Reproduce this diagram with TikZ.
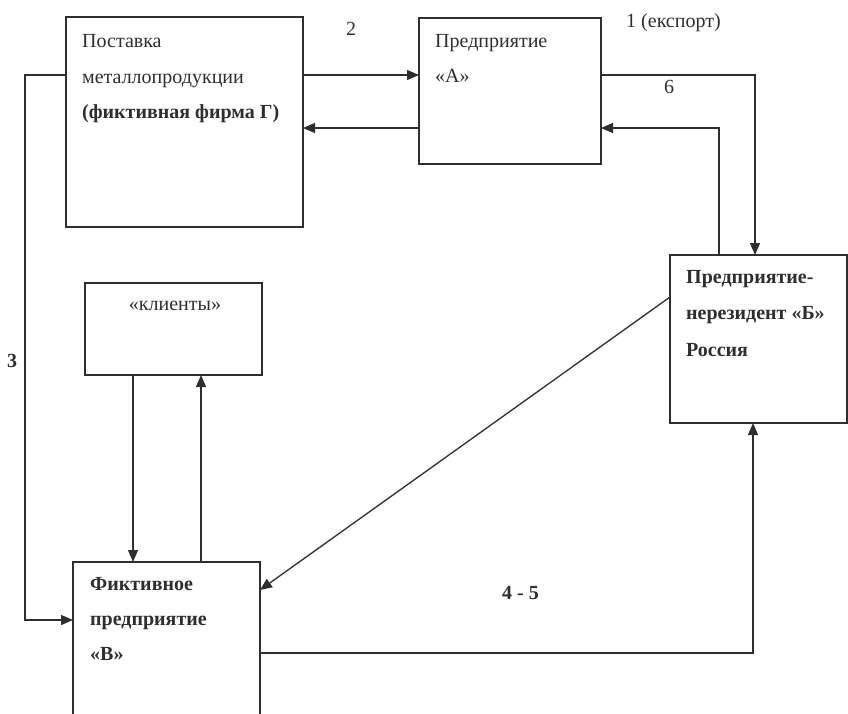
\documentclass[tikz,border=0pt]{standalone}
\usepackage{fontspec}
\setmainfont{Liberation Serif}
\usetikzlibrary{arrows.meta,calc}
\definecolor{ink}{gray}{0.18}
\begin{document}
\begin{tikzpicture}[x=1pt,y=-1pt,
 box/.style={draw=ink,line width=1.3pt,inner sep=0pt,outer sep=0pt,anchor=north west},
 lbl/.style={anchor=base west,inner sep=0pt,font=\fontsize{20}{24}\selectfont,text=ink},
 blbl/.style={lbl,font=\fontsize{20}{24}\selectfont\bfseries},
 conn/.style={draw=ink,line width=1.3pt,-{Triangle[length=12pt,width=10pt]}}]
\useasboundingbox (0,0) rectangle (848,713);
% boxes
\node[box,minimum width=237pt,minimum height=210pt] (G) at (66,17) {};
\node[box,minimum width=182pt,minimum height=146pt] (A) at (419,18) {};
\node[box,minimum width=177pt,minimum height=168pt] (B) at (670,255) {};
\node[box,minimum width=177pt,minimum height=92pt] (K) at (85,283) {};
\node[box,minimum width=187pt,minimum height=170pt] (V) at (73,562) {};
% box texts
\node[lbl] (g1) at (82,47) {Поставка};
\node[lbl] (g2) at (82,83) {металлопродукции};
\node[blbl] (g3) at (82,118) {(фиктивная фирма Г)};
\node[lbl] (a1) at (435,47) {Предприятие};
\node[lbl] (a2) at (435,82) {«А»};
\node[blbl] (b1) at (686,283) {Предприятие-};
\node[blbl] (b2) at (686,319) {нерезидент «Б»};
\node[blbl] (b3) at (686,356) {Россия};
\node[lbl,anchor=base] (k1) at (175,310) {«клиенты»};
\node[blbl] (v1) at (90,590) {Фиктивное};
\node[blbl] (v2) at (90,625) {предприятие};
\node[blbl] (v3) at (90,660) {«В»};
% labels
\node[lbl] (l2) at (346,35) {2};
\node[lbl] (l1) at (626,27) {1 (експорт)};
\node[lbl] (l6) at (664,93) {6};
\node[blbl] (l3) at (7,367) {3};
\node[blbl] (l45) at (502,599) {4 - 5};
% helper coordinates
\coordinate (r75) at (0,75);
\coordinate (r128) at (0,128);
\coordinate (c3) at (25,620);
\coordinate (c6) at (755,0);
\coordinate (c6b) at (719,0);
\coordinate (kx1) at (133,0);
\coordinate (kx2) at (201,0);
\coordinate (d1) at (0,297);
\coordinate (d2) at (0,590);
\coordinate (cd) at (753,653);
% connectors
\draw[conn] (G.east |- r75) -- (A.west |- r75);
\draw[conn] (A.west |- r128) -- (G.east |- r128);
\draw[conn] (G.west |- r75) -| (c3) -- (V.west |- c3);
\draw[conn] (A.east |- r75) -| (B.north -| c6);
\draw[conn] (B.north -| c6b) |- (A.east |- r128);
\draw[conn] (K.south -| kx1) -- (V.north -| kx1);
\draw[conn] (V.north -| kx2) -- (K.south -| kx2);
\draw[conn] (B.west |- d1) -- (V.east |- d2);
\draw[conn] (V.east |- cd) -| (B.south -| cd);
\end{tikzpicture}
\end{document}
